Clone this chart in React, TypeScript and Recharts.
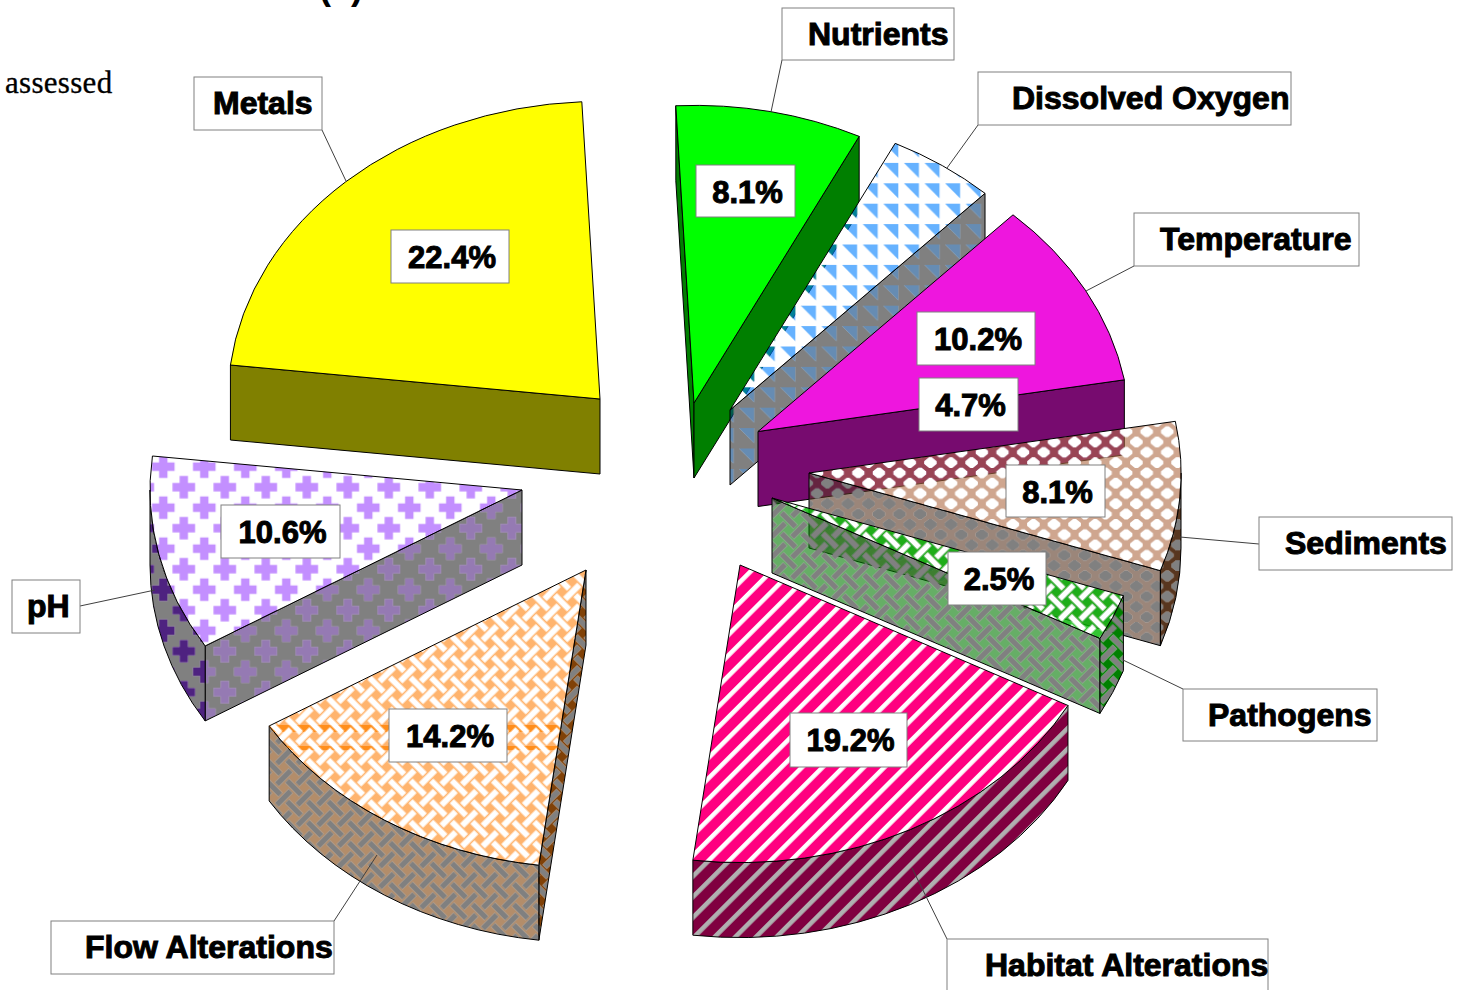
import React from "react";
import { PieChart, Pie } from "recharts";

const NAMES = [
  "Nutrients",
  "Dissolved Oxygen",
  "Temperature",
  "Sediments",
  "Pathogens",
  "Habitat Alterations",
  "Flow Alterations",
  "pH",
  "Metals",
];
const VALUES = [8.1, 4.7, 10.2, 8.1, 2.5, 19.2, 14.2, 10.6, 22.4];

const chartData = NAMES.map((name, i) => ({ name, value: VALUES[i] }));

// layout of the exploded, tilted pie
const CX = 660;
const CY = 470;
const RADIUS = 372;
const TILT = 0.8;
const DEPTH = 75;
const APEX_OFFSET = [
  [34, -67],
  [70, -60],
  [98, -38.5],
  [149, 3],
  [112, 28],
  [80, 95],
  [-74, 100],
  [-138, 20],
  [-60, -71],
];

// paints: top face, radial wall, outer wall
const PAINTS = [
  ["#00ff00", "#007f00", "#007f00"],
  ["url(#doTop)", "url(#doWall)", "url(#doWall)"],
  ["#ee16de", "#770b6f", "#770b6f"],
  ["url(#sedTop)", "url(#sedWall)", "url(#sedArc)"],
  ["url(#pathTop)", "url(#pathWall)", "url(#pathArc)"],
  ["url(#habTop)", "url(#habWall)", "url(#habWall)"],
  ["url(#flowTop)", "url(#flowArc)", "url(#flowWall)"],
  ["url(#phTop)", "url(#phWall)", "url(#phArc)"],
  ["#ffff00", "#808000", "#808000"],
];

// name box [x, y, w, h], text x
const NAME_BOX = [
  [782, 8, 172, 52, 808],
  [978, 72, 313, 53, 1012],
  [1134, 213, 225, 53, 1160],
  [1259, 517, 193, 53, 1285],
  [1183, 689, 194, 52, 1208],
  [947, 939, 321, 60, 985],
  [51, 921, 283, 53, 85],
  [12, 580, 68, 53, 27],
  [194, 77, 128, 53, 213],
];
const LEADER = [
  [782, 60, 771, 112],
  [978, 125, 947, 168],
  [1134, 266, 1086, 291],
  [1259, 544, 1180, 537],
  [1183, 689, 1123, 660],
  [947, 939, 912, 868],
  [334, 921, 377, 855],
  [80, 606, 155, 590],
  [322, 130, 346, 181],
];
const PCT_BOX = [
  [696, 165, 99, 52],
  [919, 378, 99, 53],
  [917, 312, 118, 53],
  [1006, 465, 99, 52],
  [948, 552, 98, 53],
  [790, 713, 117, 54],
  [389, 709, 118, 53],
  [221, 505, 119, 53],
  [391, 230, 118, 53],
];

const FONT = "'Liberation Sans', Arial, sans-serif";

function rectPath(w: number, h: number) {
  return `M0 0H${w}V${h}H0Z`;
}

function crossPath(x: number, y: number) {
  const a = 11.3;
  const b = 4.2;
  return `M${x - b} ${y - a}H${x + b}V${y - b}H${x + a}V${y + b}H${x + b}V${y + a}H${x - b}V${y + b}H${x - a}V${y - b}H${x - b}Z`;
}

function diamondPath(x: number, y: number) {
  const a = 6.3;
  const b = 5.3;
  const c = 1.5;
  return `M${x - c} ${y - b}H${x + c}L${x + a} ${y - c}V${y + c}L${x + c} ${y + b}H${x - c}L${x - a} ${y + c}V${y - c}Z`;
}

const PH_TILE = 41;
const PH_MARKS = [
  [10, 10],
  [51, 10],
  [10, 51],
  [30.5, 30.5],
  [-10.5, 30.5],
  [30.5, -10.5],
]
  .map(([x, y]) => crossPath(x, y))
  .join("");

const SED_TILE = 20.6;
const SED_MARKS =
  rectPath(SED_TILE, SED_TILE) +
  [
    [0, 0],
    [SED_TILE, 0],
    [0, SED_TILE],
    [SED_TILE, SED_TILE],
    [SED_TILE / 2, SED_TILE / 2],
  ]
    .map(([x, y]) => diamondPath(x, y))
    .join("");

// diagonal basket weave, the bars are the holes
const CELL = 14.57;
const BAR_LONG = 20;
const BAR_THIN = 6;
function weaveMarks() {
  let d = rectPath(CELL * 2, CELL * 2);
  const hBar = (x: number, y: number) =>
    `M${x - BAR_LONG / 2} ${y - BAR_THIN / 2}H${x + BAR_LONG / 2}V${y + BAR_THIN / 2}H${x - BAR_LONG / 2}Z`;
  const vBar = (x: number, y: number) =>
    `M${x - BAR_THIN / 2} ${y - BAR_LONG / 2}H${x + BAR_THIN / 2}V${y + BAR_LONG / 2}H${x - BAR_THIN / 2}Z`;
  for (const dx of [-2, 0, 2]) {
    for (const dy of [-2, 0, 2]) {
      d += hBar((0.5 + dx) * CELL, (0.5 + dy) * CELL);
      d += hBar((1.5 + dx) * CELL, (1.5 + dy) * CELL);
      d += vBar((1.5 + dx) * CELL, (0.5 + dy) * CELL);
      d += vBar((0.5 + dx) * CELL, (1.5 + dy) * CELL);
    }
  }
  return d;
}
const WEAVE_MARKS = weaveMarks();
const WEAVE_TRANSFORM = "translate(438.3 798) rotate(45)";

interface TileProps {
  id: string;
  w: number;
  h: number;
  x?: number;
  y?: number;
  transform?: string;
  marks: string;
  hole: string;
  ink: string;
}

// hole paint is opaque, the ink lets what is behind the slice show through
function Tile({ id, w, h, x = 0, y = 0, transform, marks, hole, ink }: TileProps) {
  return (
    <pattern id={id} patternUnits="userSpaceOnUse" x={x} y={y} width={w} height={h} patternTransform={transform}>
      <path d={rectPath(w, h) + marks} fillRule="evenodd" fill={hole} />
      <path d={marks} fillRule="evenodd" fill={ink} />
    </pattern>
  );
}

function Stripes({ id, ink, hole }: { id: string; ink: string; hole: string }) {
  const period = 14.57;
  return (
    <pattern id={id} patternUnits="userSpaceOnUse" width={period} height={period} patternTransform="rotate(45)">
      <rect width={period} height={period} fill={ink} />
      <rect width={4.6} height={period} fill={hole} />
    </pattern>
  );
}

function Patterns() {
  const doMarks = "M0 0H15V15Z";
  const doXY = { x: 883.3, y: 183.3 };
  const phXY = { x: 153.3, y: 456.7 };
  const sedXY = { x: 1146.7, y: 431.7 };
  const weave = { w: CELL * 2, h: CELL * 2, transform: WEAVE_TRANSFORM, marks: WEAVE_MARKS };
  return (
    <defs>
      <Tile id="doTop" w={20.6} h={20.4} {...doXY} marks={doMarks} hole="#fff" ink="rgba(0,127,255,0.6)" />
      <Tile id="doWall" w={20.6} h={20.4} {...doXY} marks={doMarks} hole="#808080" ink="rgba(0,64,128,0.6)" />
      <Tile id="sedTop" w={SED_TILE} h={SED_TILE} {...sedXY} marks={SED_MARKS} hole="#fff" ink="rgba(175,107,68,0.6)" />
      <Tile id="sedWall" w={SED_TILE} h={SED_TILE} {...sedXY} marks={SED_MARKS} hole="#808080" ink="rgba(88,54,34,0.6)" />
      <Tile id="sedArc" w={SED_TILE} h={SED_TILE} {...sedXY} marks={SED_MARKS} hole="#808080" ink="#58361f" />
      <Tile id="pathTop" {...weave} hole="#fff" ink="rgba(0,182,0,0.8)" />
      <Tile id="pathWall" {...weave} hole="#808080" ink="rgba(0,120,0,0.6)" />
      <Tile id="pathArc" {...weave} hole="#808080" ink="#008000" />
      <Tile id="flowTop" {...weave} hole="#fff" ink="rgba(255,130,13,0.6)" />
      <Tile id="flowWall" {...weave} hole="#808080" ink="rgba(128,65,7,0.6)" />
      <Tile id="flowArc" {...weave} hole="#808080" ink="#804107" />
      <Tile id="flowBand" {...weave} hole="none" ink="rgba(255,130,0,0.75)" />
      <Tile id="phTop" w={PH_TILE} h={PH_TILE} {...phXY} marks={PH_MARKS} hole="#fff" ink="rgba(155,68,255,0.6)" />
      <Tile id="phWall" w={PH_TILE} h={PH_TILE} {...phXY} marks={PH_MARKS} hole="#808080" ink="rgba(78,34,128,0.6)" />
      <Tile id="phArc" w={PH_TILE} h={PH_TILE} {...phXY} marks={PH_MARKS} hole="#808080" ink="#4e2280" />
      <Stripes id="habTop" ink="#ff0080" hole="#fff" />
      <Stripes id="habWall" ink="#800040" hole="#b0b0b0" />
      <clipPath id="flowBandClip">
        <rect x={0} y={725} width={1460} height={7} />
        <rect x={0} y={746} width={1460} height={4} />
      </clipPath>
    </defs>
  );
}

// the sector's angles come from the Pie; here they are tilted and pulled out
function Slice(props: any) {
  const { cx, cy, outerRadius, startAngle, endAngle, index } = props;
  const [dx, dy] = APEX_OFFSET[index];
  const ax = cx + dx;
  const ay = cy + dy;
  const rx = outerRadius;
  const ry = outerRadius * TILT;
  const [topPaint, radialPaint, arcPaint] = PAINTS[index];

  // clock angles, 0 at the top and growing clockwise
  const t0 = 90 - startAngle;
  const t1 = 90 - endAngle;
  const pt = (t: number) => {
    const rad = (t * Math.PI) / 180;
    return [ax + rx * Math.sin(rad), ay - ry * Math.cos(rad)];
  };
  const wall = (t: number) => {
    const [x, y] = pt(t);
    return `M${ax} ${ay}L${x} ${y}V${y + DEPTH}L${ax} ${ay + DEPTH}Z`;
  };
  const sin0 = Math.sin((t0 * Math.PI) / 180);
  const sin1 = Math.sin((t1 * Math.PI) / 180);

  const a0 = Math.max(t0, 90);
  const a1 = Math.min(t1, 270);
  let arcWall = "";
  if (a1 > a0) {
    const [x0, y0] = pt(a0);
    const [x1, y1] = pt(a1);
    arcWall = `M${x0} ${y0}A${rx} ${ry} 0 0 1 ${x1} ${y1}V${y1 + DEPTH}A${rx} ${ry} 0 0 0 ${x0} ${y0 + DEPTH}Z`;
  }
  const [sx, sy] = pt(t0);
  const [ex, ey] = pt(t1);
  const top = `M${ax} ${ay}L${sx} ${sy}A${rx} ${ry} 0 0 1 ${ex} ${ey}Z`;

  return (
    <g stroke="#000" strokeWidth={1} strokeLinejoin="round">
      {sin0 < 0 && <path d={wall(t0)} fill={radialPaint} />}
      {sin1 > 0 && <path d={wall(t1)} fill={radialPaint} />}
      {arcWall && <path d={arcWall} fill={arcPaint} />}
      <path d={top} fill={topPaint} />
      {topPaint === "url(#flowTop)" && <path d={top} fill="url(#flowBand)" stroke="none" clipPath="url(#flowBandClip)" />}
    </g>
  );
}

function BoldText({ x, y, size, children, anchor }: { x: number; y: number; size: number; children: React.ReactNode; anchor?: "middle" }) {
  return (
    <text
      x={x}
      y={y}
      textAnchor={anchor}
      fontFamily={FONT}
      fontWeight="bold"
      fontSize={size}
      fill="#000"
      stroke="#000"
      strokeWidth={1}
    >
      {children}
    </text>
  );
}

function SliceLabel(props: any) {
  const { index, name, value } = props;
  const [bx, by, bw, bh, tx] = NAME_BOX[index];
  const [l0, l1, l2, l3] = LEADER[index];
  const [px, py, pw, ph] = PCT_BOX[index];
  return (
    <g>
      <line x1={l0} y1={l1} x2={l2} y2={l3} stroke="#404040" strokeWidth={1} />
      <rect x={bx} y={by} width={bw} height={bh} fill="#fff" stroke="#808080" strokeWidth={1} />
      <BoldText x={tx} y={by + 37} size={32}>
        {name}
      </BoldText>
      <rect x={px} y={py} width={pw} height={ph} fill="#fff" stroke="#808080" strokeWidth={1} />
      <BoldText x={px + pw / 2 + 2} y={py + 38} size={31} anchor="middle">
        {value.toFixed(1)}%
      </BoldText>
    </g>
  );
}

export default function App() {
  return (
    <div style={{ position: "absolute", left: 0, top: 0, width: 1460, height: 990, background: "#fff" }}>
      <PieChart width={1460} height={990} margin={{ top: 0, right: 0, bottom: 0, left: 0 }}>
        <Patterns />
        <Pie
          data={chartData}
          dataKey="value"
          nameKey="name"
          cx={CX}
          cy={CY}
          innerRadius={0}
          outerRadius={RADIUS}
          startAngle={92.8}
          endAngle={-267.2}
          isAnimationActive={false}
          shape={(p: any, i: number) => <Slice {...p} index={i} />}
          label={(p: any) => <SliceLabel {...p} />}
          labelLine={false}
        />
        <text x={5} y={93} fontFamily="'Liberation Serif', serif" fontSize={31} letterSpacing={0.3} stroke="#000" strokeWidth={0.3} fill="#000">
          assessed
        </text>
        <text x={319} y={-1} fontFamily={FONT} fontWeight="bold" fontSize={36} fill="#000">
          (a)
        </text>
      </PieChart>
    </div>
  );
}
